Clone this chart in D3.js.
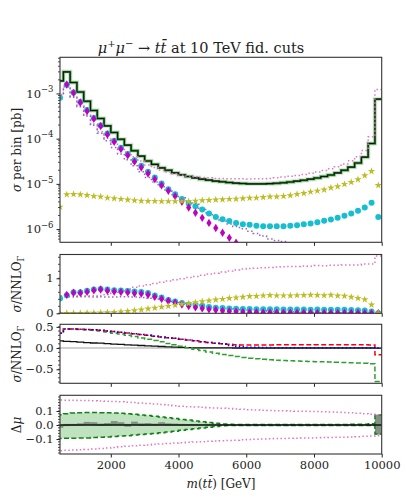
<!DOCTYPE html>
<html>
<head>
<meta charset="utf-8">
<script src="https://cdn.jsdelivr.net/npm/d3@7"></script>
<style>
  body { margin: 0; background: #fff; }
  svg text { font-family: 'DejaVu Serif', serif; fill: #222; }
</style>
</head>
<body>
<svg id="chart" width="406" height="499"></svg>
<script>
// bin centres of m(tt) histogram, 200 GeV wide bins from 400 to 10000
const binCenters = d3.range(500, 10000, 200)

// top panel, sigma per bin [pb]
const nnloTotal = [1.9e-3, 3.0e-3, 1.75e-3, 1.08e-3, 6.7e-4, 4.2e-4, 2.8e-4, 1.92e-4, 1.37e-4, 9.7e-5,
  7.2e-5, 5.4e-5, 4.1e-5, 3.2e-5, 2.7e-5, 2.26e-5, 2.0e-5, 1.75e-5, 1.58e-5, 1.46e-5,
  1.36e-5, 1.27e-5, 1.21e-5, 1.15e-5, 1.11e-5, 1.07e-5, 1.04e-5, 1.02e-5, 1.0e-5, 1.0e-5,
  1.0e-5, 1.01e-5, 1.03e-5, 1.06e-5, 1.1e-5, 1.15e-5, 1.2e-5, 1.27e-5, 1.35e-5, 1.45e-5,
  1.57e-5, 1.75e-5, 2.0e-5, 2.35e-5, 2.9e-5, 3.9e-5, 7.8e-5, 7.5e-4]
const magentaPts = [null, 1.58e-3, 1.03e-3, 6.3e-4, 4.1e-4, 2.75e-4, 1.9e-4, 1.24e-4, 8.5e-5, 5.9e-5,
  4.3e-5, 3.1e-5, 2.3e-5, 1.7e-5, 1.27e-5, 9.3e-6, 7.0e-6, 5.35e-6, 4.0e-6, 3.0e-6,
  2.3e-6, 1.77e-6, 1.37e-6, 1.06e-6, 8.3e-7, 6.4e-7, 5.0e-7, 4.0e-7, 3.3e-7, 2.9e-7,
  2.6e-7, 2.4e-7, 2.2e-7, 2.1e-7, 2.0e-7, 1.9e-7, 1.9e-7, 1.8e-7, 1.8e-7, 1.8e-7,
  1.8e-7, 1.8e-7, 1.9e-7, 1.9e-7, 2.0e-7, 2.1e-7, 2.3e-7, 1.0e-7]
const cyanPts = [8.0e-4, 1.55e-3, 1.05e-3, 6.5e-4, 4.3e-4, 2.85e-4, 1.95e-4, 1.3e-4, 9.0e-5, 6.3e-5,
  4.6e-5, 3.35e-5, 2.5e-5, 1.85e-5, 1.38e-5, 1.02e-5, 7.6e-6, 5.9e-6, 4.6e-6, 3.7e-6,
  3.2e-6, 2.7e-6, 2.2e-6, 1.86e-6, 1.65e-6, 1.5e-6, 1.37e-6, 1.28e-6, 1.24e-6, 1.18e-6,
  1.15e-6, 1.15e-6, 1.16e-6, 1.16e-6, 1.18e-6, 1.22e-6, 1.28e-6, 1.33e-6, 1.42e-6, 1.52e-6,
  1.63e-6, 1.77e-6, 1.96e-6, 2.2e-6, 2.53e-6, 3.0e-6, 3.8e-6, 1.86e-6]
const olivePts = [3.1e-6, 5.8e-6, 5.9e-6, 5.8e-6, 5.6e-6, 5.35e-6, 5.2e-6, 4.9e-6, 4.75e-6, 4.6e-6,
  4.45e-6, 4.3e-6, 4.2e-6, 4.15e-6, 4.15e-6, 4.1e-6, 4.1e-6, 4.1e-6, 4.1e-6, 4.1e-6,
  4.2e-6, 4.3e-6, 4.35e-6, 4.45e-6, 4.5e-6, 4.6e-6, 4.65e-6, 4.75e-6, 4.85e-6, 4.9e-6,
  5.05e-6, 5.2e-6, 5.2e-6, 5.35e-6, 5.55e-6, 5.9e-6, 6.2e-6, 6.65e-6, 7.0e-6, 7.4e-6,
  8.2e-6, 8.75e-6, 9.85e-6, 1.09e-5, 1.25e-5, 1.53e-5, 1.9e-5, 9.3e-6]
const pinkHist = [9.5e-4, 1.5e-3, 8.8e-4, 5.4e-4, 3.35e-4, 2.1e-4, 1.43e-4, 1.02e-4, 7.9e-5, 6.2e-5,
  5.0e-5, 4.0e-5, 3.2e-5, 2.6e-5, 2.3e-5, 2.0e-5, 1.84e-5, 1.68e-5, 1.56e-5, 1.49e-5,
  1.43e-5, 1.38e-5, 1.36e-5, 1.32e-5, 1.31e-5, 1.29e-5, 1.29e-5, 1.29e-5, 1.28e-5, 1.29e-5,
  1.3e-5, 1.32e-5, 1.36e-5, 1.41e-5, 1.47e-5, 1.54e-5, 1.62e-5, 1.71e-5, 1.84e-5, 1.97e-5,
  2.15e-5, 2.4e-5, 2.76e-5, 3.24e-5, 4.0e-5, 5.5e-5, 1.1e-4, 1.23e-3]
const purpleHist = [8.9e-4, 1.41e-3, 8.2e-4, 5.1e-4, 3.15e-4, 1.97e-4, 1.32e-4, 9.0e-5, 6.4e-5, 4.6e-5,
  3.4e-5, 2.5e-5, 1.85e-5, 1.38e-5, 1.1e-5, 8.6e-6, 7.0e-6, 5.8e-6, 4.9e-6, 4.2e-6,
  3.7e-6, 2.9e-6, 2.3e-6, 1.84e-6, 1.55e-6, 1.3e-6, 1.14e-6, 1.02e-6, 9.0e-7, 8.0e-7,
  7.0e-7, 6.0e-7, 5.6e-7, 5.3e-7, 5.0e-7, 4.6e-7, 4.2e-7, 3.8e-7, 3.5e-7, 3.2e-7,
  3.0e-7, 2.8e-7, 2.6e-7, 2.4e-7, 2.2e-7, 2.0e-7, 1.8e-7, 3.0e-7]

// second ratio panel
const ratioBlack = [0.17, 0.16, 0.15, 0.14, 0.13, 0.12, 0.115, 0.105, 0.095, 0.085,
  0.075, 0.068, 0.06, 0.052, 0.045, 0.037, 0.03, 0.022, 0.016, 0.01,
  0.006, 0.004, 0.003, 0.003, 0.003, 0.003, 0.002, 0.002, 0.002, 0.002,
  0.002, 0.002, 0.002, 0.002, 0.002, 0.002, 0.002, 0.002, 0.002, 0.002,
  0.002, 0.002, 0.002, 0.002, 0.002, 0.002, 0.002, 0.0]
const ratioRed = [0.35, 0.45, 0.45, 0.445, 0.44, 0.43, 0.42, 0.405, 0.39, 0.37,
  0.355, 0.34, 0.32, 0.3, 0.28, 0.26, 0.245, 0.23, 0.21, 0.19,
  0.17, 0.15, 0.13, 0.115, 0.1, 0.09, 0.08, 0.075, 0.075, 0.075,
  0.075, 0.075, 0.076, 0.076, 0.077, 0.078, 0.078, 0.079, 0.08, 0.08,
  0.08, 0.08, 0.08, 0.08, 0.08, 0.078, 0.075, -0.16]
const ratioBlue = [0.35, 0.45, 0.45, 0.445, 0.44, 0.43, 0.42, 0.405, 0.39, 0.37,
  0.355, 0.34, 0.32, 0.3, 0.28, 0.26, 0.245, 0.23, 0.21, 0.19,
  0.17, 0.15, 0.13, 0.115, 0.1, 0.06, 0.04, 0.03, 0.022, 0.018,
  0.015, 0.012, 0.01, 0.01, 0.01, 0.01, 0.01, 0.01, 0.01, 0.01,
  0.01, 0.01, 0.01, 0.01, 0.01, 0.01, 0.01, 0.0]
const ratioGreen = [0.35, 0.45, 0.45, 0.44, 0.43, 0.42, 0.4, 0.38, 0.35, 0.33,
  0.3, 0.27, 0.24, 0.21, 0.18, 0.15, 0.11, 0.08, 0.045, 0.01,
  -0.03, -0.06, -0.09, -0.12, -0.15, -0.175, -0.2, -0.22, -0.24, -0.25,
  -0.265, -0.275, -0.285, -0.295, -0.3, -0.305, -0.31, -0.315, -0.32, -0.325,
  -0.33, -0.335, -0.34, -0.345, -0.35, -0.355, -0.37, -0.79]

// bottom panel, delta mu
const pinkUp = [0.178, 0.177, 0.176, 0.175, 0.174, 0.173, 0.172, 0.17, 0.168, 0.166,
  0.163, 0.16, 0.157, 0.154, 0.15, 0.146, 0.142, 0.138, 0.134, 0.13,
  0.128, 0.126, 0.124, 0.122, 0.12, 0.117, 0.114, 0.112, 0.109, 0.107,
  0.105, 0.104, 0.102, 0.101, 0.1, 0.099, 0.098, 0.097, 0.096, 0.095,
  0.093, 0.091, 0.089, 0.087, 0.084, 0.081, 0.077, 0.074]
const pinkDown = [-0.183, -0.181, -0.179, -0.177, -0.175, -0.172, -0.168, -0.164, -0.16, -0.156,
  -0.152, -0.148, -0.145, -0.142, -0.138, -0.135, -0.132, -0.129, -0.126, -0.124,
  -0.121, -0.119, -0.116, -0.114, -0.112, -0.11, -0.108, -0.106, -0.104, -0.102,
  -0.1, -0.099, -0.097, -0.096, -0.095, -0.094, -0.093, -0.092, -0.091, -0.09,
  -0.089, -0.088, -0.087, -0.085, -0.083, -0.081, -0.079, -0.077]
const greenUp = [0.074, 0.08, 0.085, 0.088, 0.089, 0.089, 0.088, 0.087, 0.085, 0.083,
  0.08, 0.076, 0.072, 0.067, 0.062, 0.057, 0.052, 0.046, 0.04, 0.035,
  0.029, 0.023, 0.017, 0.012, 0.007, 0.005, 0.004, 0.004, 0.004, 0.004,
  0.004, 0.004, 0.004, 0.004, 0.004, 0.004, 0.004, 0.004, 0.004, 0.004,
  0.004, 0.004, 0.004, 0.005, 0.005, 0.006, 0.009, 0.072]
const greenDown = [-0.096, -0.095, -0.094, -0.093, -0.092, -0.09, -0.088, -0.085, -0.082, -0.079,
  -0.076, -0.072, -0.068, -0.064, -0.06, -0.055, -0.05, -0.045, -0.038, -0.033,
  -0.027, -0.021, -0.016, -0.011, -0.006, -0.004, -0.003, -0.003, -0.003, -0.003,
  -0.003, -0.003, -0.003, -0.003, -0.003, -0.003, -0.003, -0.003, -0.003, -0.003,
  -0.003, -0.003, -0.003, -0.003, -0.003, -0.003, -0.004, -0.065]
const grayHi = [0.0, 0.008, 0.008, 0.012, 0.022, 0.02, 0.01, 0.014, 0.028, 0.02,
  0.008, 0.024, 0.012, 0.014, 0.01, 0.02, 0.012, 0.01, 0.008, 0.007,
  0.006, 0.005, 0.005, 0.004, 0.004, 0.004, 0.003, 0.003, 0.003, 0.003,
  0.003, 0.003, 0.003, 0.003, 0.003, 0.003, 0.003, 0.003, 0.003, 0.003,
  0.003, 0.003, 0.003, 0.003, 0.004, 0.004, 0.005, 0.075]
const grayLo = [-0.02, -0.008, -0.006, -0.004, 0.0, -0.002, -0.006, -0.004, 0.0, -0.002,
  -0.012, 0.0, -0.006, -0.004, -0.004, 0.0, -0.004, -0.004, -0.004, -0.004,
  -0.003, -0.003, -0.003, -0.003, -0.003, -0.003, -0.003, -0.003, -0.003, -0.003,
  -0.003, -0.003, -0.003, -0.003, -0.003, -0.003, -0.003, -0.003, -0.003, -0.003,
  -0.003, -0.003, -0.003, -0.003, -0.003, -0.003, -0.004, -0.07]

const xTicks = [2000, 4000, 6000, 8000, 10000]

let serif = "'DejaVu Serif', serif"

let svg = d3.select("#chart")

let xLeft = 60, xRight = 381.7
let x = d3.scaleLinear().domain([500, 10000]).range([xLeft, xRight])

let yTop = d3.scaleLog().domain([5.1e-7, 6.3e-3]).range([242.3, 57.3])
let yR1 = d3.scaleLinear().domain([0, 1.68]).range([313.3, 254.5])
let yR2 = d3.scaleLinear().domain([-0.83, 0.56]).range([383.3, 324.3])
let yB = d3.scaleLinear().domain([-0.207, 0.212]).range([454, 395.3])

let defs = svg.append("defs")

function panel(name, y) {
    let r = y.range()
    defs.append("clipPath").attr("id", "clip-" + name)
        .append("rect")
        .attr("x", xLeft).attr("y", r[1])
        .attr("width", xRight - xLeft).attr("height", r[0] - r[1])
    return svg.append("g").attr("clip-path", "url(#clip-" + name + ")")
}

// step outline of a histogram: left edge of every bin, plus the right edge of the last one
function stepPoints(vals) {
    let pts = vals.map((v, i) => [binCenters[i] - 100, v])
    pts.push([binCenters[vals.length - 1] + 100, vals[vals.length - 1]])
    return pts
}

function stepLine(y) {
    return d3.line()
        .x(d => x(d[0]))
        .y(d => y(d[1]))
        .curve(d3.curveStepAfter)
}

function drawStep(g, y, vals, color, width, dash) {
    g.append("path")
        .datum(stepPoints(vals))
        .attr("d", stepLine(y))
        .attr("fill", "none")
        .attr("stroke", color)
        .attr("stroke-width", width)
        .attr("stroke-dasharray", dash || null)
}

let diamond = "M0,-4.2L2.6,0L0,4.2L-2.6,0Z"
let star = d3.symbol().type(d3.symbolStar).size(17)()

function drawMarkers(g, y, vals, kind, color) {
    let pts = vals.map((v, i) => [binCenters[i], v]).filter(d => d[1] != null)
    let sel = g.append("g").selectAll("m").data(pts).enter()
    if (kind == "circle") {
        sel.append("circle")
            .attr("cx", d => x(d[0]))
            .attr("cy", d => y(d[1]))
            .attr("r", 3)
            .attr("fill", color)
    } else {
        sel.append("path")
            .attr("d", kind == "diamond" ? diamond : star)
            .attr("transform", d => "translate(" + x(d[0]) + "," + y(d[1]) + ")")
            .attr("fill", color)
    }
}

let dotted = "1.5,2.5"
let dashed = "5,2.5"

// ---------- top panel ----------
let gTop = panel("top", yTop)
drawStep(gTop, yTop, nnloTotal, "#e2e2e2", 4.5)
drawStep(gTop, yTop, nnloTotal, "#2ca02c", 2.4)
drawStep(gTop, yTop, nnloTotal, "#111", 1.1)
drawStep(gTop, yTop, pinkHist, "#e377c2", 1.5, dotted)
drawStep(gTop, yTop, purpleHist, "#9467bd", 1.5, dotted)
drawMarkers(gTop, yTop, cyanPts, "circle", "#17becf")
drawMarkers(gTop, yTop, magentaPts, "diamond", "#c000c0")
drawMarkers(gTop, yTop, olivePts, "star", "#bcbd22")

// ---------- ratio panel 1 ----------
let ratio = vals => vals.map((v, i) => v == null ? null : v / nnloTotal[i])
let gR1 = panel("r1", yR1)
drawStep(gR1, yR1, ratio(pinkHist), "#e377c2", 1.5, dotted)
drawStep(gR1, yR1, ratio(purpleHist), "#9467bd", 1.5, dotted)
drawMarkers(gR1, yR1, ratio(cyanPts), "circle", "#17becf")
drawMarkers(gR1, yR1, ratio(magentaPts), "diamond", "#c000c0")
drawMarkers(gR1, yR1, ratio(olivePts), "star", "#bcbd22")

// ---------- ratio panel 2 ----------
let gR2 = panel("r2", yR2)
gR2.append("line")
    .attr("x1", xLeft).attr("x2", xRight)
    .attr("y1", yR2(0)).attr("y2", yR2(0))
    .attr("stroke", "#c0c0c0").attr("stroke-width", 1.5)
drawStep(gR2, yR2, ratioBlack, "#111", 1.3)
drawStep(gR2, yR2, ratioGreen, "#2ca02c", 1.5, dashed)
drawStep(gR2, yR2, ratioRed, "red", 1.5, dashed)
drawStep(gR2, yR2, ratioBlue, "blue", 1.5, dotted)

// ---------- delta mu panel ----------
let gB = panel("b", yB)
gB.append("path")
    .datum(stepPoints(greenUp).map((d, i) => [d[0], d[1], stepPoints(greenDown)[i][1]]))
    .attr("d", d3.area().x(d => x(d[0])).y0(d => yB(d[2])).y1(d => yB(d[1])).curve(d3.curveStepAfter))
    .attr("fill", "#2ca02c")
    .attr("fill-opacity", 0.3)
gB.append("g").selectAll("rect")
    .data(binCenters.map((c, i) => [c, grayLo[i], grayHi[i]]))
    .enter()
    .append("rect")
    .attr("x", d => x(d[0] - 100))
    .attr("width", d => x(d[0] + 100) - x(d[0] - 100))
    .attr("y", d => yB(d[2]))
    .attr("height", d => yB(d[1]) - yB(d[2]))
    .attr("fill", "#505050")
    .attr("fill-opacity", 0.55)
drawStep(gB, yB, greenUp, "#15801a", 1.5, dashed)
drawStep(gB, yB, greenDown, "#15801a", 1.5, dashed)
drawStep(gB, yB, pinkUp, "#e377c2", 1.5, dotted)
drawStep(gB, yB, pinkDown, "#e377c2", 1.5, dotted)
gB.append("line")
    .attr("x1", xLeft).attr("x2", xRight)
    .attr("y1", yB(0)).attr("y2", yB(0))
    .attr("stroke", "#111").attr("stroke-width", 1.5)

// ---------- axes and frames ----------
function styleAxis(g) {
    g.attr("font-family", serif)
    g.select(".domain").remove()
    g.selectAll("line").attr("stroke", "#222")
    g.selectAll("text").attr("font-size", 11.5).attr("fill", "#222")
        .attr("font-family", serif)
}

let fmtLin = d => d3.format(".1f")(d).replace("-", "\u2212")

;[[yTop, null], [yR1, [0, 1]], [yR2, [-0.5, 0, 0.5]], [yB, [-0.1, 0, 0.1]]].forEach(([y, ticks], k) => {
    let r = y.range()
    // x ticks on each panel
    let ax = svg.append("g")
        .attr("transform", "translate(0," + r[0] + ")")
        .call(d3.axisBottom(x).tickValues(xTicks).tickSize(3.5).tickPadding(3)
            .tickFormat(k == 3 ? d3.format("d") : ""))
    styleAxis(ax)

    let ay = svg.append("g").attr("transform", "translate(" + xLeft + ",0)")
    let minor
    if (k == 0) {
        ay.call(d3.axisLeft(y).tickValues([1e-6, 1e-5, 1e-4, 1e-3]).tickSize(3.5).tickPadding(3).tickFormat(""))
        ay.selectAll(".tick text").each(function(d) {
            let t = d3.select(this)
            t.text("10")
            t.append("tspan").attr("dy", -5.5).attr("font-size", 8.5)
                .text("\u2212" + Math.round(-Math.log10(d)))
        })
        minor = []
        ;[-7, -6, -5, -4, -3].forEach(e => d3.range(2, 10).forEach(m => minor.push(m * Math.pow(10, e))))
    } else {
        let fmt = k == 1 ? d3.format("d") : fmtLin
        ay.call(d3.axisLeft(y).tickValues(ticks).tickSize(3.5).tickPadding(3).tickFormat(fmt))
        let step = k == 1 ? 0.2 : (k == 2 ? 0.1 : 0.02)
        minor = d3.range(-50, 51).map(i => i * step)
    }
    styleAxis(ay)
    let dom = y.domain()
    svg.append("g").selectAll("line")
        .data(minor.filter(v => v >= Math.min(dom[0], dom[1]) && v <= Math.max(dom[0], dom[1])))
        .enter()
        .append("line")
        .attr("x1", xLeft - 2).attr("x2", xLeft)
        .attr("y1", d => y(d)).attr("y2", d => y(d))
        .attr("stroke", "#222").attr("stroke-width", 0.8)

    svg.append("rect")
        .attr("x", xLeft).attr("y", r[1])
        .attr("width", xRight - xLeft).attr("height", r[0] - r[1])
        .attr("fill", "none").attr("stroke", "#333").attr("stroke-width", 1.1)
})

// ---------- labels ----------
let title = svg.append("text")
    .attr("x", 201).attr("y", 53)
    .attr("text-anchor", "middle")
    .attr("font-family", serif)
    .attr("font-size", 14.5)
title.append("tspan").attr("font-style", "italic").text("\u03bc")
title.append("tspan").attr("dy", -6).attr("font-size", 10).text("+")
title.append("tspan").attr("dy", 6).attr("font-style", "italic").text("\u03bc")
title.append("tspan").attr("dy", -6).attr("font-size", 10).text("\u2212")
title.append("tspan").attr("dy", 6).text(" \u2192 ")
title.append("tspan").attr("font-style", "italic").text("tt\u0304")
title.append("tspan").text(" at 10 TeV fid. cuts")

function yLabel(cy, build) {
    let t = svg.append("text")
        .attr("transform", "translate(21," + cy + ") rotate(-90)")
        .attr("text-anchor", "middle")
        .attr("font-family", serif)
        .attr("font-size", 12)
    build(t)
}
yLabel(150, t => {
    t.append("tspan").attr("font-style", "italic").text("\u03c3")
    t.append("tspan").text(" per bin [pb]")
})
;[284, 354].forEach(cy => yLabel(cy, t => {
    t.append("tspan").attr("font-style", "italic").text("\u03c3")
    t.append("tspan").text("/NNLO")
    t.append("tspan").attr("dy", 3).attr("font-size", 8.5).text("\u0393")
}))
yLabel(425, t => {
    t.append("tspan").text("\u0394")
    t.append("tspan").attr("font-style", "italic").text("\u03bc")
})

let xl = svg.append("text")
    .attr("x", 221).attr("y", 488)
    .attr("text-anchor", "middle")
    .attr("font-family", serif)
    .attr("font-size", 12)
xl.append("tspan").attr("font-style", "italic").text("m")
xl.append("tspan").text("(")
xl.append("tspan").attr("font-style", "italic").text("tt\u0304")
xl.append("tspan").text(") [GeV]")
</script>
</body>
</html>
